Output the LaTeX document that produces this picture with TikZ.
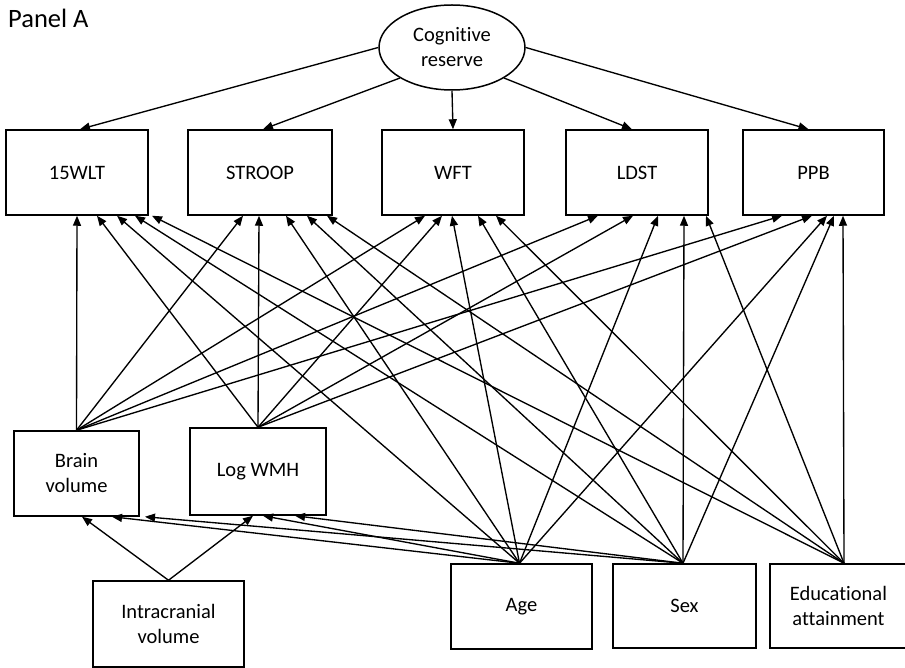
\documentclass[tikz,border=0pt]{standalone}
\usepackage{fontspec}
\setmainfont[Ligatures={NoCommon}]{Carlito}
\usetikzlibrary{arrows.meta,shapes.geometric}
\begin{document}
\begin{tikzpicture}[x=1pt,y=-1pt,
  box/.style={draw, line width=1.5pt, inner sep=0pt, align=center, font=\fontsize{20.5}{25}\selectfont},
  arr/.style={line width=1.35pt, -{Triangle[length=10pt,width=8pt]}},
  ]
\useasboundingbox (0,0) rectangle (905,668);
\node[anchor=base west, inner sep=0pt, font=\fontsize{26.5}{30}\selectfont] (title) at (8,28) {Panel A};
\node[draw, ellipse, line width=1.5pt, minimum width=146pt, minimum height=85pt, inner sep=0pt, align=center, font=\fontsize{20.5}{25}\selectfont] (cr) at (452,47.5) {Cognitive\\reserve};
% top row
\node[box, minimum width=142pt, minimum height=85pt] (w15) at (77,172.5) {15WLT};
\node[box, minimum width=144pt, minimum height=85pt] (stroop) at (260,172.5) {STROOP};
\node[box, minimum width=142pt, minimum height=85pt] (wft) at (453,172.5) {WFT};
\node[box, minimum width=142pt, minimum height=85pt] (ldst) at (637,172.5) {LDST};
\node[box, minimum width=141pt, minimum height=85pt] (ppb) at (813.5,172.5) {PPB};
% middle row
\node[box, minimum width=125pt, minimum height=85pt] (bv) at (76.5,473.5) {Brain\\volume};
\node[box, minimum width=136pt, minimum height=87pt] (lwmh) at (258,471.5) {Log WMH};
% bottom row
\node[box, minimum width=151pt, minimum height=86pt] (icv) at (168.5,624) {Intracranial\\volume};
\node[box, minimum width=141pt, minimum height=85pt] (age) at (521.5,606.5) {Age};
\node[box, minimum width=143pt, minimum height=84pt] (sex) at (684.5,606) {Sex};
\node[box, minimum width=137pt, minimum height=84pt] (edu) at (838.5,606) {Educational\\attainment};
\coordinate (ageT) at ([xshift=-2pt]age.north);
\coordinate (sexT) at ([xshift=-1.5pt]sex.north);
\coordinate (eduT) at ([xshift=5.5pt]edu.north);
% latent to indicators
\draw[arr] (cr.west) -- ([xshift=3pt]w15.north);
\draw[arr] (cr.south west) -- ([xshift=3pt]stroop.north);
\draw[arr] (cr.south) -- (wft.north);
\draw[arr] (cr.south east) -- ([xshift=-5pt]ldst.north);
\draw[arr] (cr.east) -- ([xshift=-5pt]ppb.north);
% predictors to indicators
\foreach \t/\a/\b/\c/\d/\e in {w15/0/20/40/58/75, stroop/-17/-1/26/47/67, wft/-28/-11/-1/25/43, ldst/-39/-4/21/47/69, ppb/-31.5/-1.5/13.5/20.5/29.5} {
  \draw[arr] (bv.north) -- ([xshift=\a pt]\t.south);
  \draw[arr] (lwmh.north) -- ([xshift=\b pt]\t.south);
  \draw[arr] (ageT) -- ([xshift=\c pt]\t.south);
  \draw[arr] (sexT) -- ([xshift=\d pt]\t.south);
  \draw[arr] (eduT) -- ([xshift=\e pt]\t.south);
}
% covariates to brain measures
\draw[arr] (icv.north) -- ([xshift=5.5pt]bv.south);
\draw[arr] (icv.north) -- ([xshift=-5pt]lwmh.south);
\draw[arr] (ageT) -- ([xshift=35.5pt]bv.south);
\draw[arr] (sexT) -- ([xshift=68.5pt]bv.south);
\draw[arr] (ageT) -- ([xshift=5pt]lwmh.south);
\draw[arr] (sexT) -- ([xshift=37pt]lwmh.south);
\end{tikzpicture}
\end{document}
